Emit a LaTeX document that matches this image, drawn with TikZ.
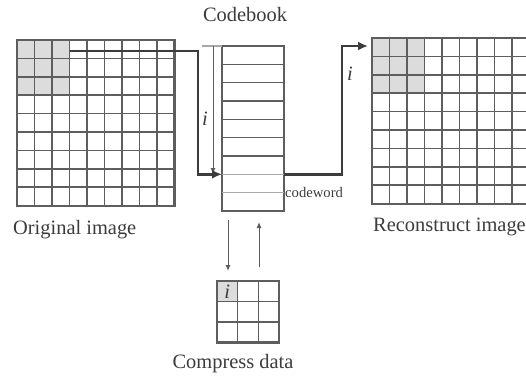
\documentclass[tikz,border=0pt]{standalone}
\usepackage{fontspec}
\setmainfont{Liberation Serif}
\usetikzlibrary{arrows.meta,calc}
\definecolor{ink}{HTML}{3C3C3C}
\definecolor{gridc}{HTML}{5E5E5E}
\definecolor{lightc}{HTML}{A8A8A8}
\definecolor{cellfill}{HTML}{DCDCDC}
\tikzset{
  frame/.style={draw=gridc, line width=2.2bp, anchor=north west, inner sep=0pt, outer sep=0pt},
  gridline/.style={draw=gridc, line width=1.5bp},
  softline/.style={draw=lightc, line width=1.3bp},
  bigarrow/.style={draw=ink, line width=2.6bp, -{Latex[length=10bp,width=9bp]}},
  thinarrow/.style={draw=gridc, line width=1bp, -{Latex[length=6bp,width=5bp]}},
  caption/.style={text=ink, font=\fontsize{20.5}{24}\selectfont, inner sep=0pt},
  idx/.style={text=ink, font=\fontsize{20.5}{24}\selectfont\itshape, inner sep=0pt},
}
\begin{document}
\begin{tikzpicture}[x=1bp,y=-1bp]
\useasboundingbox (0,0) rectangle (526,376);

% ---- original image: 9x9 blocks, first 3x3 block shaded
\fill[cellfill] (17,40) rectangle (69.5,95.2);
\foreach \k in {1,...,8} {
  \draw[gridline] (17+\k*17.5,40) -- (17+\k*17.5,205.6);
  \draw[gridline] (17,40+\k*18.4) -- (174.5,40+\k*18.4);
}
\node[frame, minimum width=157.5bp, minimum height=165.6bp] (orig) at (17,40) {};
\node[caption, anchor=west] (origlbl) at (13,230) {Original image};

% ---- codebook
\node[frame, minimum width=62bp, minimum height=165bp] (cb) at (222,46) {};
\foreach \k in {1,...,7} {
  \draw[gridline] (222,46+\k*18.33) -- (284,46+\k*18.33);
}
\draw[softline] (222,174.3) -- (284,174.3);
\draw[softline] (222,192.7) -- (284,192.7);
\node[caption] (cblbl) at (245,15) {Codebook};
\node[text=ink, font=\fontsize{14.7}{17}\selectfont, inner sep=0pt, anchor=west] (cw) at (285,192) {codeword};

% index ruler beside the codebook
\coordinate (rtop) at (202,46);
\draw[softline] (rtop) -- (cb.north west);
\coordinate (ra) at (213,46);
\coordinate (rb) at (213,174);
\draw[thinarrow] (ra) -- (rb);
\node[idx] (ileft) at (205,119) {i};

% ---- block to codebook lookup
\coordinate (src) at (69.5,51);
\coordinate (cbin) at (222,174.3);
\draw[bigarrow] (src) -- (198,51) |- (cbin);

% ---- codebook to reconstructed image
\coordinate (cbout) at (284,174.3);
\coordinate (dst) at (368,46);
\draw[bigarrow] (cbout) -| (342,46) -- (dst);
\node[idx] (iright) at (350,74) {i};

% ---- reconstructed image (cut at the right edge)
\begin{scope}
\clip (0,0) rectangle (526,376);
\fill[cellfill] (372,38) rectangle (424.5,93.2);
\foreach \k in {1,...,8} {
  \draw[gridline] (372+\k*17.5,38) -- (372+\k*17.5,203.6);
  \draw[gridline] (372,38+\k*18.4) -- (529.5,38+\k*18.4);
}
\node[frame, minimum width=157.5bp, minimum height=165.6bp] (rec) at (372,38) {};
\end{scope}
\node[caption, anchor=west] (reclbl) at (373,227) {Reconstruct image};

% ---- compressed index data
\coordinate (dna) at (228,220);
\coordinate (dnb) at (228,271);
\coordinate (upa) at (259,267);
\coordinate (upb) at (259,222);
\draw[thinarrow] (dna) -- (dnb);
\draw[thinarrow] (upa) -- (upb);

\fill[cellfill] (217,281) rectangle (237.7,301.5);
\foreach \k in {1,2} {
  \draw[gridline] (217+\k*20.67,281) -- (217+\k*20.67,342.5);
  \draw[gridline] (217,281+\k*20.5) -- (279,281+\k*20.5);
}
\node[frame, minimum width=62bp, minimum height=61.5bp] (comp) at (217,281) {};
\node[idx] (icomp) at (227.3,291.5) {i};
\node[caption] (complbl) at (233,364) {Compress data};
\end{tikzpicture}
\end{document}
